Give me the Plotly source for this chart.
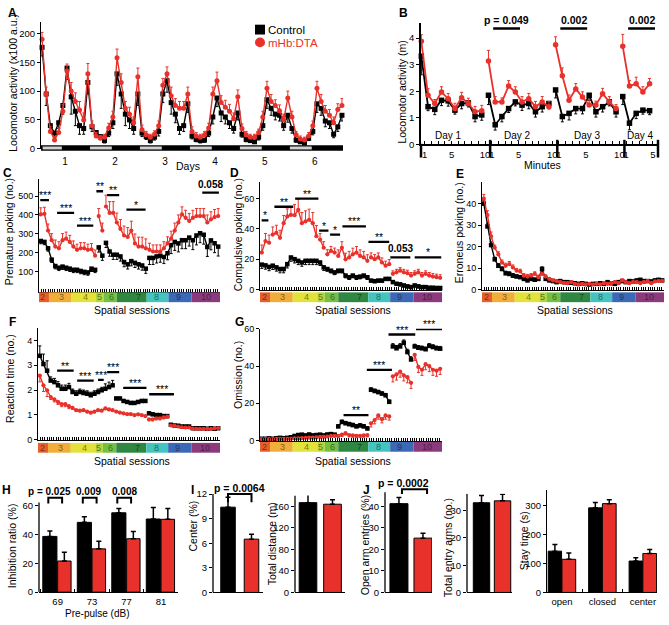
import plotly.graph_objects as go

W, H = 669, 625
RED = "#e8312a"
BLK = "#000000"
FONT = "Liberation Sans, Arial, Helvetica, sans-serif"

# ======================= DATA =======================
# ---- Panel A: home-cage locomotor activity, 2-h bins (hour of recording) ----
A_hours = list(range(13, 158, 2))
A_ctrl = [176, 95, 40, 27, 45, 75, 140, 90, 65, 40,
          35, 115, 38, 28, 21, 14, 27, 45, 130, 95,
          60, 50, 35, 95, 27, 21, 14, 20, 30, 95,
          118, 80, 60, 35, 40, 78, 22, 16, 14, 15,
          27, 55, 88, 62, 55, 45, 35, 62, 25, 16,
          14, 12, 20, 40, 85, 70, 60, 58, 40, 58,
          35, 15, 12, 10, 18, 30, 78, 70, 48, 45,
          25, 38, 58]
A_ctrl_err = [15, 20, 10, 8, 10, 15, 20, 30, 25, 15,
              10, 20, 8, 6, 5, 4, 6, 10, 20, 25,
              20, 15, 10, 20, 6, 5, 4, 5, 8, 15,
              20, 20, 15, 10, 10, 15, 5, 4, 4, 4,
              6, 12, 15, 15, 12, 10, 8, 12, 5, 4,
              3, 3, 5, 8, 15, 12, 10, 10, 8, 12,
              8, 4, 3, 3, 4, 6, 15, 12, 10, 10,
              6, 8, 10]
A_dta = [190, 95, 30, 15, 28, 65, 135, 100, 82, 67,
         50, 130, 40, 22, 18, 20, 36, 55, 158, 115,
         70, 60, 45, 125, 33, 24, 20, 25, 40, 110,
         130, 92, 75, 70, 70, 95, 30, 22, 20, 24,
         36, 95, 118, 80, 72, 65, 52, 90, 35, 24,
         20, 20, 28, 55, 105, 82, 75, 66, 50, 88,
         55, 24, 17, 15, 22, 40, 105, 82, 65, 58,
         45, 68, 75]
A_dta_err = [12, 12, 8, 6, 8, 12, 12, 15, 15, 15,
             12, 18, 8, 6, 5, 5, 8, 10, 15, 15,
             12, 12, 10, 15, 8, 6, 5, 6, 8, 12,
             12, 15, 12, 12, 12, 12, 8, 6, 5, 6,
             8, 12, 15, 12, 12, 12, 10, 12, 8, 6,
             5, 5, 6, 10, 12, 12, 10, 10, 10, 12,
             10, 6, 5, 5, 6, 8, 12, 12, 10, 10,
             10, 10, 12]
A_day_ticks = [24, 48, 72, 96, 120, 144]
A_day_labels = ["1", "2", "3", "4", "5", "6"]
A_light_start = [12, 36, 60, 84, 108, 132]
A_light_end = [22.5, 46.5, 70.5, 94.5, 118.5, 142.5]

# ---- Panel B: open-field activity per minute, 4 days ----
B_minutes = list(range(1, 11))
B_day_names = ["Day 1", "Day 2", "Day 3", "Day 4"]
B_ctrl = [[3.32, 1.42, 1.32, 1.66, 1.64, 1.29, 1.54, 1.56, 1.05, 1.11],
          [1.85, 0.74, 1.05, 1.35, 1.60, 1.48, 1.54, 1.23, 1.42, 1.54],
          [2.05, 1.05, 1.17, 1.35, 1.35, 1.85, 1.23, 1.42, 1.60, 1.23],
          [1.80, 0.80, 1.17, 1.29, 1.27]]
B_ctrl_err = [[0.7, 0.15, 0.2, 0.2, 0.2, 0.15, 0.2, 0.15, 0.2, 0.2],
              [0.35, 0.2, 0.2, 0.15, 0.15, 0.2, 0.2, 0.2, 0.2, 0.2],
              [0.3, 0.2, 0.25, 0.2, 0.2, 0.2, 0.2, 0.2, 0.15, 0.2],
              [0.3, 0.25, 0.2, 0.15, 0.15]]
B_dta = [[3.88, 1.85, 1.54, 1.97, 1.72, 1.35, 1.76, 1.54, 1.23, 1.27],
         [3.14, 1.60, 1.60, 2.20, 1.97, 1.60, 1.72, 1.42, 1.60, 1.42],
         [3.75, 2.58, 1.66, 2.09, 1.78, 1.48, 1.48, 1.91, 1.60, 1.35],
         [3.69, 2.20, 2.28, 1.97, 2.28]]
B_dta_err = [[0.25, 0.25, 0.15, 0.2, 0.2, 0.2, 0.2, 0.2, 0.2, 0.2],
             [0.4, 0.2, 0.15, 0.2, 0.2, 0.2, 0.2, 0.2, 0.2, 0.2],
             [0.3, 0.3, 0.2, 0.2, 0.2, 0.2, 0.15, 0.2, 0.2, 0.15],
             [0.45, 0.2, 0.25, 0.2, 0.2]]
B_tickvals = [1, 5, 10, 11, 15, 20, 21, 25, 30, 31, 35]
B_ticktext = ["1", "5", "10", "1", "5", "10", "1", "5", "10", "1", "5"]
B_sep = [10.75, 20.75, 30.75]
B_day_label_x = [4.5, 14.8, 25.2, 33.1]
B_p_x0 = [11.2, 21.2, 31.3]
B_p_x1 = [15.2, 25.2, 35.3]
B_p_y = [4.36, 4.36, 4.36]
B_p_txt = ["p = 0.049", "0.002", "0.002"]

# ---- Sessions (panels C-G) ----
SESSIONS = ["2", "3", "4", "5", "6", "7", "8", "9", "10"]
SESSION_EDGES = [0, 5.5, 18, 31.5, 35.7, 43, 59.5, 71.5, 84.3, 100]
SESSION_LABEL_X = [2.2, 12.4, 25.8, 33.2, 40, 54.8, 64.9, 76.9, 92]
SESSION_COLORS = ["#e55e2b", "#f1ad3a", "#e3e23a", "#b3d53e", "#74c044",
                  "#2f8742", "#45c4bf", "#3c69b6", "#8b3b7d"]
S_X = list(range(1, 100, 2))

C_ctrl = [262, 257, 223, 163, 129, 120, 126, 120, 115, 109,
          109, 103, 98, 95, 115, 109, 228, 184, 252, 206,
          189, 189, 180, 150, 138, 155, 146, 138, 132, 115,
          172, 172, 180, 184, 177, 197, 240, 257, 249, 266,
          266, 280, 266, 291, 303, 295, 230, 265, 250, 232]
C_dta = [403, 406, 317, 266, 232, 223, 266, 274, 257, 232,
         215, 223, 223, 215, 218, 184, 394, 317, 445, 411,
         411, 360, 326, 291, 283, 317, 249, 232, 232, 223,
         215, 206, 206, 206, 223, 249, 274, 317, 360, 403,
         385, 368, 385, 394, 394, 394, 360, 377, 389, 394]
C_ctrl_err_s = [15, 15, 15, 25, 25, 25, 35, 45, 50]
C_dta_err_s = [35, 35, 30, 40, 60, 50, 35, 40, 40]
C_sig_x0 = [0.7, 10, 21, 31.7, 37.6, 48.3, 90.2]
C_sig_x1 = [5.5, 19.4, 30, 35.4, 44.3, 58.9, 99.4]
C_sig_y = [479, 411, 343, 526, 505, 428, 519]
C_sig_txt = ["***", "***", "***", "**", "**", "*", "<b>0.058</b>"]

D_ctrl = [16.5, 16, 15, 15.8, 14.7, 13.6, 13.6, 16.8, 21.2, 20.1,
          19, 17.9, 19, 19, 19, 19, 17.9, 14.7, 13.6, 12.5,
          11.4, 12.5, 12.5, 9.3, 8.2, 9.3, 8.2, 8.6, 9.3, 8.2,
          6, 5.6, 6, 6, 7.1, 7.1, 5, 3.9, 3.5, 2.8,
          2.2, 1.7, 2.8, 2.2, 1.7, 1.7, 1.3, 1.3, 1.1, 1.1]
D_dta = [24.4, 32, 30.9, 36.3, 37.4, 34.1, 43.8, 48.2, 49.2, 49,
         52.5, 43.8, 44.9, 46, 43.8, 35.2, 33, 27.6, 23.3, 25.5,
         24.4, 22.2, 27.6, 20, 21.2, 23.3, 24.4, 22.2, 21.2, 19,
         21.2, 20.1, 21.2, 17.9, 15.8, 16.8, 10.4, 11.4, 12.5, 11.4,
         10.8, 9.3, 10.4, 11.4, 9.3, 10.4, 9.3, 8.6, 8.2, 7.8]
D_ctrl_err_s = [2.5, 2.5, 2.5, 2, 1.5, 1.5, 1, 1, 1]
D_dta_err_s = [5, 5, 7, 4, 3, 4, 3, 2, 2]
D_sig_x0 = [0.9, 7.9, 19.3, 32.5, 38.5, 45.3, 59.6, 71.6, 85]
D_sig_x1 = [4.6, 18.3, 32.1, 37.6, 44, 58.2, 71, 82.6, 99.6]
D_sig_y = [45.6, 54.6, 60, 38.9, 36.3, 41.7, 31.5, 21.2, 21.2]
D_sig_txt = ["*", "**", "**", "*", "*", "***", "**", "<b>0.053</b>", "*"]

E_ctrl = [40, 29.4, 20.7, 14.1, 11.1, 9.6, 7.6, 7.3, 6.5, 6.1,
          5.8, 5.0, 4.3, 5.0, 4.6, 5.0, 9.6, 5.0, 4.3, 4.0,
          3.5, 4.0, 3.5, 3.5, 3.2, 3.0, 2.7, 3.0, 2.7, 2.4,
          2.7, 2.7, 3.0, 2.7, 3.5, 3.0, 2.7, 3.5, 4.0, 3.5,
          4.0, 3.8, 4.3, 4.6, 4.0, 4.0, 3.8, 4.3, 4.6, 4.3]
E_dta = [42.3, 34.7, 24.8, 19.5, 16.4, 12.6, 11.1, 11.9, 10.3, 8.8,
         8.5, 6.5, 6.1, 6.5, 7.3, 5.8, 7.3, 6.1, 5.0, 4.3,
         4.0, 3.5, 3.2, 3.0, 3.5, 2.7, 2.4, 2.7, 2.4, 2.7,
         2.4, 2.7, 2.4, 3.0, 2.7, 3.0, 3.5, 3.0, 4.3, 3.5,
         3.0, 3.5, 3.5, 3.0, 3.5, 4.0, 3.0, 3.8, 4.0, 4.0]
E_ctrl_err_s = [1.5, 1, 0.8, 1, 0.6, 0.6, 0.6, 0.6, 0.6]
E_dta_err_s = [2, 1.2, 1, 0.8, 0.6, 0.6, 0.6, 0.6, 0.6]

F_ctrl = [3.38, 3.05, 2.78, 2.38, 2.32, 2.19, 2.05, 2.05, 2.12, 1.92,
          1.85, 1.92, 1.88, 1.85, 1.79, 1.85, 1.92, 1.99, 2.05, 2.12,
          2.19, 1.66, 1.66, 1.56, 1.52, 1.48, 1.48, 1.52, 1.56, 1.56,
          1.06, 1.02, 0.99, 0.99, 0.95, 0.95, 0.60, 0.57, 0.56, 0.53,
          0.53, 0.53, 0.46, 0.46, 0.46, 0.46, 0.44, 0.46, 0.44, 0.46]
F_dta = [2.58, 2.19, 1.99, 1.72, 1.62, 1.52, 1.43, 1.43, 1.35, 1.28,
         1.19, 1.17, 1.19, 1.13, 1.09, 1.13, 1.19, 1.17, 1.26, 1.22,
         1.19, 1.13, 1.09, 1.06, 1.03, 1.03, 0.99, 1.02, 0.99, 0.95,
         0.82, 0.82, 0.86, 0.86, 0.90, 0.93, 0.57, 0.56, 0.53, 0.50,
         0.49, 0.49, 0.45, 0.44, 0.43, 0.44, 0.43, 0.44, 0.45, 0.47]
F_ctrl_err_s = [0.4, 0.15, 0.12, 0.12, 0.2, 0.05, 0.05, 0.03, 0.03]
F_dta_err_s = [0.25, 0.1, 0.05, 0.05, 0.05, 0.04, 0.06, 0.03, 0.03]
F_sig_x0 = [10.5, 21.5, 33, 38, 46.8, 61.1]
F_sig_x1 = [19.6, 30.6, 36.1, 44.6, 59.6, 74.7]
F_sig_y = [2.78, 2.38, 2.41, 2.72, 2.09, 1.83]
F_sig_txt = ["**", "***", "***", "***", "***", "***"]

G_ctrl = [1.0, 1.0, 1.2, 1.0, 1.3, 1.5, 1.3, 1.5, 1.8, 2.5,
          3.0, 3.2, 2.8, 3.3, 2.8, 3.0, 3.2, 2.8, 3.3, 3.5,
          3.2, 7.6, 10.0, 9.3, 8.8, 8.3, 7.6, 8.1, 7.6, 6.5,
          27.3, 26.6, 26.0, 25.2, 24.3, 20.8, 50.5, 49.5, 50.5, 52.5,
          47.5, 43.5, 50.5, 49.8, 49.5, 49.0, 50.8, 50.2, 49.5, 49.3]
G_dta = [0.8, 0.8, 0.8, 0.8, 0.9, 0.9, 0.9, 1.0, 1.0, 1.2,
         1.2, 1.3, 1.5, 1.6, 1.6, 1.7, 2.0, 2.0, 2.2, 2.5,
         2.5, 2.6, 3.2, 4.0, 3.0, 2.8, 2.6, 2.6, 2.8, 3.0,
         9.3, 11.0, 13.5, 11.5, 13.5, 13.0, 34.5, 35.5, 37.0, 35.0,
         34.0, 31.0, 46.0, 39.5, 38.0, 41.0, 40.0, 38.0, 37.5, 38.5]
G_ctrl_err_s = [0.3, 0.4, 0.5, 0.5, 0.5, 1.0, 1.0, 1.5, 1.2]
G_dta_err_s = [0.2, 0.2, 0.3, 0.4, 0.4, 1.0, 2.0, 3.0, 3.0]
G_sig_x0 = [45.9, 58.7, 70.6, 85.7]
G_sig_x1 = [59.6, 72.5, 85.3, 100]
G_sig_y = [13.7, 37.9, 56.9, 59.8]
G_sig_txt = ["**", "***", "***", "***"]

# ---- Panel H: prepulse inhibition ----
H_prepulse = ["69", "73", "77", "81"]
H_ctrl = [38.5, 48.2, 54.8, 50.5]
H_ctrl_err = [3.8, 3.8, 2.9, 7.9]
H_dta = [21.5, 29.9, 36.9, 50.3]
H_dta_err = [6.1, 5.2, 5.0, 7.4]
H_br_x0 = [-0.27, 0.73, 1.73]
H_br_x1 = [0.13, 1.13, 2.13]
H_br_top, H_br_leg = 65.2, 61.2
H_p_x = [-0.24, 0.9, 1.95]
H_p_txt = ["p = 0.025", "0.009", "0.008"]
H_p_y = 69.8

# ---- Panel I: open field ----
I_center = [10.4, 6.5]
I_center_err = [1.2, 0.6]
I_dist = [166.6, 163.7]
I_dist_err = [16.4, 8.3]

# ---- Panel J: elevated plus maze ----
J_open = [41.2, 25.2]
J_open_err = [2.8, 2.3]
J_entries = [32.9, 33.6]
J_entries_err = [2.7, 2.4]
J_zones = ["open", "closed", "center"]
J_stay_ctrl = [142, 291, 108]
J_stay_ctrl_err = [22.7, 18, 11]
J_stay_dta = [114, 305.5, 134]
J_stay_dta_err = [22, 13.5, 14]

# ======================= FIGURE =======================
TICK = 9
fig = go.Figure()
L = dict(width=W, height=H, autosize=False, margin=dict(l=0, r=0, t=0, b=0),
         paper_bgcolor="white", plot_bgcolor="white", showlegend=False,
         barmode="overlay", font=dict(family=FONT, size=10, color="black"))
shapes, annos = [], []


def axn(n, c):
    return f"{c}axis" + ("" if n == 1 else str(n))


def rf(n, c):
    return c + ("" if n == 1 else str(n))


def set_axes(n, xpx, ypx, xr, yr, xkw=None, ykw=None):
    xa = dict(domain=[xpx[0] / W, xpx[1] / W], range=xr, anchor=rf(n, "y"),
              showgrid=False, zeroline=False, showline=True, linecolor="black",
              linewidth=1, ticks="", showticklabels=False, fixedrange=True,
              tickangle=0, tickfont=dict(size=TICK, color="black"))
    ya = dict(domain=[1 - ypx[1] / H, 1 - ypx[0] / H], range=yr, anchor=rf(n, "x"),
              showgrid=False, zeroline=False, showline=True, linecolor="black",
              linewidth=1, ticks="outside", ticklen=3, tickwidth=1, tickcolor="black",
              tickfont=dict(size=TICK, color="black"), fixedrange=True)
    if xkw:
        xa.update(xkw)
    if ykw:
        ya.update(ykw)
    L[axn(n, "x")] = xa
    L[axn(n, "y")] = ya


def ptxt(x, y, s, size=10, color="black", angle=0, xanchor="center", yanchor="middle"):
    annos.append(dict(xref="paper", yref="paper", x=x / W, y=1 - y / H, text=s,
                      showarrow=False, textangle=angle, xanchor=xanchor, yanchor=yanchor,
                      font=dict(size=size, color=color, family=FONT)))


def letter(x, y, s):
    ptxt(x, y, "<b>" + s + "</b>", size=12)


def ytitle(x, y, s, size=10.5):
    ptxt(x, y, s, size=size, angle=-90)


def line_shape(n, x0, x1, y0, y1, width=2.2):
    shapes.append(dict(type="line", xref=rf(n, "x"), yref=rf(n, "y"), x0=x0, x1=x1,
                       y0=y0, y1=y1, line=dict(color="black", width=width), layer="above"))


def err(vals, direction, color):
    z = [0] * len(vals)
    if direction == "up":
        return dict(type="data", array=vals, arrayminus=z, symmetric=False,
                    color=color, thickness=1, width=1.5)
    return dict(type="data", array=z, arrayminus=vals, symmetric=False,
                color=color, thickness=1, width=1.5)


def scatter(n, x, y, e, color, symbol, direction, size=4.5, lw=1.4):
    fig.add_trace(go.Scatter(
        x=x, y=y, mode="lines+markers", xaxis=rf(n, "x"), yaxis=rf(n, "y"),
        line=dict(color=color, width=lw), marker=dict(color=color, symbol=symbol, size=size),
        error_y=err(e, direction, color), cliponaxis=False, connectgaps=False,
        hoverinfo="skip"))


# ----------------------- Panel A -----------------------
set_axes(1, (41, 343), (17, 146), [12.5, 157.5], [0, 220.5],
         xkw=dict(showline=False, tickvals=A_day_ticks, ticktext=A_day_labels,
                  showticklabels=True, ticks="outside", ticklen=3,
                  tickcolor="rgba(0,0,0,0)", tickfont=dict(size=10, color="black")),
         ykw=dict(tickvals=[0, 50, 100, 150, 200], tickfont=dict(size=9.5, color="black")))
scatter(1, A_hours, A_ctrl, A_ctrl_err, BLK, "square", "down", size=5)
scatter(1, A_hours, A_dta, A_dta_err, RED, "circle", "up", size=5)
# light/dark bar
shapes.append(dict(type="rect", xref="x", yref="paper", x0=12.5, x1=157.5,
                   y0=1 - 148 / H, y1=1 - 142.5 / H, fillcolor="black",
                   line=dict(width=0), layer="above"))
for s0, s1 in zip(A_light_start, A_light_end):
    shapes.append(dict(type="rect", xref="x", yref="paper", x0=max(s0, 13.3), x1=s1,
                       y0=1 - 146.8 / H, y1=1 - 143.8 / H, fillcolor="#d0d0d0",
                       line=dict(width=0), layer="above"))
ytitle(13, 79, "Locomotor activity (x100 a.u.)")
ptxt(188, 164, "Days", size=10.5)
letter(13, 8, "A")
# legend
shapes.append(dict(type="rect", xref="paper", yref="paper", x0=255 / W, x1=265 / W,
                   y0=1 - 30 / H, y1=1 - 20 / H, fillcolor="black", line=dict(width=0)))
shapes.append(dict(type="circle", xref="paper", yref="paper", x0=255 / W, x1=265 / W,
                   y0=1 - 43 / H, y1=1 - 33 / H, fillcolor=RED, line=dict(width=0)))
ptxt(266, 25.5, "Control", size=11.5, xanchor="left")
ptxt(266, 38.5, "mHb:DTA", size=11.5, color=RED, xanchor="left")

# ----------------------- Panel B -----------------------
set_axes(2, (421, 658), (18, 141.7), [0.45, 35.75], [0, 4.58],
         xkw=dict(linewidth=2, tickvals=B_tickvals, ticktext=B_ticktext, showticklabels=True,
                  ticks="inside", ticklen=3, tickwidth=1.2, tickcolor="black",
                  tickfont=dict(size=9.5, color="black"),
                  minor=dict(tick0=0, dtick=1, ticks="inside", ticklen=3,
                             tickwidth=1.2, tickcolor="black")),
         ykw=dict(tickvals=[0, 1, 2, 3, 4], linewidth=1.5,
                  tickfont=dict(size=9.5, color="black")))
for d in range(len(B_ctrl)):
    xs = [d * 10 + m - 0.5 for m in B_minutes[:len(B_ctrl[d])]]
    scatter(2, xs, B_ctrl[d], B_ctrl_err[d], BLK, "square", "down", size=5.5, lw=1.8)
    scatter(2, xs, B_dta[d], B_dta_err[d], RED, "circle", "up", size=5.5, lw=1.8)
for sx in B_sep:
    shapes.append(dict(type="line", xref="x2", yref="paper", x0=sx, x1=sx,
                       y0=1 - 155 / H, y1=1 - 137 / H, line=dict(color="black", width=2.5)))
shapes.append(dict(type="line", xref="x2 domain", yref="paper", x0=1, x1=1,
                   y0=1 - 155 / H, y1=1 - 137 / H, line=dict(color="black", width=2.5)))
shapes.append(dict(type="line", xref="x2 domain", yref="paper", x0=0, x1=0,
                   y0=1 - 155 / H, y1=1 - 141 / H, line=dict(color="black", width=2.5)))
for i, nm in enumerate(B_day_names):
    annos.append(dict(xref="x2", yref="paper", x=B_day_label_x[i], y=1 - 140 / H, text=nm,
                      showarrow=False, yanchor="bottom", yshift=0,
                      font=dict(size=10, family=FONT, color="black")))
for x0, x1, yv, t in zip(B_p_x0, B_p_x1, B_p_y, B_p_txt):
    line_shape(2, x0, x1, yv, yv, width=2.5)
    annos.append(dict(xref="x2", yref="y2", x=(x0 + x1) / 2, y=yv, text="<b>" + t + "</b>",
                      showarrow=False, yanchor="bottom", yshift=1,
                      font=dict(size=10.5, family=FONT, color="black")))
ytitle(402, 89, "Locomotor activity (m)")
ptxt(542, 163, "Minutes", size=10.5)
letter(403, 8, "B")


# ----------------------- Panels C-G -----------------------
def sess_index(x):
    return sum(1 for b in SESSION_EDGES[1:-1] if x >= b)


def with_gaps(xs, ys, es, breaks):
    ox, oy, oe = [], [], []
    prev = None
    for x, y, e in zip(xs, ys, es):
        s = sum(1 for b in breaks if x >= b)
        if prev is not None and s != prev:
            ox.append(None); oy.append(None); oe.append(0)
        ox.append(x); oy.append(y); oe.append(e)
        prev = s
    return ox, oy, oe


def session_panel(n, xpx, ypx, yr, ticks, ctrl, dta, ce_s, de_s, cdir, ddir, breaks,
                  bar_px, sig=None):
    set_axes(n, xpx, ypx, [0, 100], yr,
             xkw=dict(linewidth=1.2, ticks="inside", ticklen=3, tickwidth=1.1,
                      tickcolor="black", tick0=0, dtick=1.25),
             ykw=dict(tickvals=ticks))
    ce = [ce_s[sess_index(x)] for x in S_X]
    de = [de_s[sess_index(x)] for x in S_X]
    xa, ya, ea = with_gaps(S_X, ctrl, ce, breaks)
    xb, yb, eb = with_gaps(S_X, dta, de, breaks)
    scatter(n, xa, ya, ea, BLK, "square", cdir, size=4.5, lw=1.4)
    scatter(n, xb, yb, eb, RED, "circle", ddir, size=4.2, lw=1.4)
    xref_dom = rf(n, "x") + " domain"
    for i, nm in enumerate(SESSIONS):
        shapes.append(dict(type="rect", xref=rf(n, "x"), yref="paper",
                           x0=SESSION_EDGES[i], x1=SESSION_EDGES[i + 1],
                           y0=1 - bar_px[1] / H, y1=1 - bar_px[0] / H,
                           fillcolor=SESSION_COLORS[i], line=dict(width=0), layer="above"))
        annos.append(dict(xref=xref_dom, yref="paper", x=SESSION_LABEL_X[i] / 100.0,
                          y=1 - (bar_px[0] + bar_px[1]) / 2 / H, text=nm, showarrow=False,
                          xanchor="center", yanchor="middle",
                          font=dict(size=9, color="rgba(0,0,0,0.5)", family=FONT)))
    if sig:
        for x0, x1_, yv, t in zip(*sig):
            line_shape(n, x0, x1_, yv, yv, width=2.3)
            star = t.startswith("*")
            annos.append(dict(xref=rf(n, "x"), yref=rf(n, "y"), x=(x0 + x1_) / 2, y=yv,
                              text=t, showarrow=False, yanchor="bottom",
                              yshift=-3 if star else 1,
                              font=dict(size=10.5 if star else 10, family=FONT,
                                        color="black")))


session_panel(3, (39, 220), (177, 291.5), [-8, 590], [100, 200, 300, 400, 500],
              C_ctrl, C_dta, C_ctrl_err_s, C_dta_err_s, "down", "up",
              [31.5, 35.7, 59.5], (292, 302),
              (C_sig_x0, C_sig_x1, C_sig_y, C_sig_txt))
ytitle(9, 231, "Premature poking (no.)")
ptxt(132, 310, "Spatial sessions", size=10.5)
letter(7, 171, "C")

session_panel(4, (260, 442), (180, 289.3), [0, 70.8], [0, 20, 40, 60],
              D_ctrl, D_dta, D_ctrl_err_s, D_dta_err_s, "down", "up",
              SESSION_EDGES[1:-1], (292, 302),
              (D_sig_x0, D_sig_x1, D_sig_y, D_sig_txt))
ytitle(238, 234, "Compulsive poking (no.)")
ptxt(353, 310, "Spatial sessions", size=10.5)
letter(235, 171, "D")

session_panel(5, (482, 664), (180, 289.3), [0, 50], [0, 10, 20, 30, 40],
              E_ctrl, E_dta, E_ctrl_err_s, E_dta_err_s, "up", "up",
              [], (292, 302))
ytitle(459, 232, "Erroneus poking (no.)")
ptxt(575, 310, "Spatial sessions", size=10.5)
letter(460, 172, "E")

session_panel(6, (38, 220), (328.3, 441.7), [0, 4.5], [0, 1, 2, 3, 4],
              F_ctrl, F_dta, F_ctrl_err_s, F_dta_err_s, "up", "down",
              [43, 59.5, 71.5, 84.3], (445, 455),
              (F_sig_x0, F_sig_x1, F_sig_y, F_sig_txt))
ytitle(10, 380, "Reaction time (no.)")
ptxt(132, 463, "Spatial sessions", size=10.5)
letter(13, 322, "F")

session_panel(7, (260, 442), (329, 442.7), [0, 60], [0, 20, 40, 60],
              G_ctrl, G_dta, G_ctrl_err_s, G_dta_err_s, "up", "down",
              SESSION_EDGES[1:-1], (444, 454),
              (G_sig_x0, G_sig_x1, G_sig_y, G_sig_txt))
ytitle(238, 376, "Omission (no.)")
ptxt(353, 463, "Spatial sessions", size=10.5)
letter(239, 322, "G")


# ----------------------- Bar panels -----------------------
def bar_err(vals):
    return dict(type="data", array=vals, arrayminus=[0] * len(vals), symmetric=False,
                color="black", thickness=1.5, width=2.5)


def axis_line(n, ytop):
    shapes.append(dict(type="line", xref=rf(n, "x") + " domain", yref=rf(n, "y"),
                       x0=0, x1=0, y0=0, y1=ytop, line=dict(color="black", width=1.3)))


def bracket(n, x0, x1, ytop, yleg):
    shapes.append(dict(type="path", xref=rf(n, "x"), yref=rf(n, "y"),
                       path=f"M {x0},{yleg} L {x0},{ytop} L {x1},{ytop} L {x1},{yleg}",
                       line=dict(color="black", width=2)))


BAR_LINE = dict(color="black", width=1)
BTICK = 9.5

# H
set_axes(8, (39, 178), (493.7, 596.7), [-0.54, 3.49], [0, 70],
         xkw=dict(linewidth=1.3, tickvals=[0, 1, 2, 3], ticktext=H_prepulse,
                  showticklabels=True, ticks="", tickfont=dict(size=BTICK, color="black"),
                  minor=dict(tick0=0.5, dtick=1, ticks="inside", ticklen=3, tickcolor="black")),
         ykw=dict(showline=False, tickvals=[0, 20, 40, 60],
                  tickfont=dict(size=BTICK, color="black")))
axis_line(8, 62)
hx = list(range(len(H_prepulse)))
fig.add_trace(go.Bar(x=hx, y=H_ctrl, xaxis="x8", yaxis="y8", width=0.41, offset=-0.43,
                     marker=dict(color=BLK, line=BAR_LINE), error_y=bar_err(H_ctrl_err),
                     hoverinfo="skip"))
fig.add_trace(go.Bar(x=hx, y=H_dta, xaxis="x8", yaxis="y8", width=0.39, offset=0.0,
                     marker=dict(color=RED, line=BAR_LINE), error_y=bar_err(H_dta_err),
                     hoverinfo="skip"))
for x0, x1, px_, t in zip(H_br_x0, H_br_x1, H_p_x, H_p_txt):
    bracket(8, x0, x1, H_br_top, H_br_leg)
    annos.append(dict(xref="x8", yref="y8", x=px_, y=H_p_y, text="<b>" + t + "</b>",
                      showarrow=False, font=dict(size=10, family=FONT, color="black")))
ytitle(12, 550, "Inhibition ratio (%)")
ptxt(97, 618, "Pre-pulse (dB)", size=10)
letter(6, 493, "H")


def pair_panel(n, xpx, ypx, xr, yr, ytop, ticks, vals, errs, width):
    set_axes(n, xpx, ypx, xr, yr,
             xkw=dict(linewidth=1.3),
             ykw=dict(showline=False, tickvals=ticks,
                      tickfont=dict(size=BTICK, color="black")))
    axis_line(n, ytop)
    fig.add_trace(go.Bar(x=[0, 1], y=vals, xaxis=rf(n, "x"), yaxis=rf(n, "y"),
                         width=width, offset=-width / 2,
                         marker=dict(color=[BLK, RED], line=BAR_LINE),
                         error_y=bar_err(errs), hoverinfo="skip"))


# I
pair_panel(9, (213, 263), (484.5, 597), [-0.64, 1.49], [0, 13.5], 12,
           [0, 3, 6, 9, 12], I_center, I_center_err, 0.62)
bracket(9, 0.0, 1.0, 12.0, 11.0)
annos.append(dict(xref="x9", yref="y9", x=0.5, y=12.7, text="<b>p = 0.0064</b>",
                  showarrow=False, font=dict(size=10.5, family=FONT, color="black")))
ytitle(193, 530, "Center (%)")
letter(192, 493, "I")

pair_panel(10, (295, 345), (498.4, 597), [-0.53, 1.51], [0, 180], 180,
           [0, 40, 80, 120, 160], I_dist, I_dist_err, 0.72)
ytitle(272, 548, "Total distance (m)")

# J
pair_panel(11, (385, 432), (483.1, 597), [-0.58, 1.375], [0, 52], 46.5,
           [0, 10, 20, 30, 40], J_open, J_open_err, 0.75)
bracket(11, 0.125, 1.17, 47.9, 45.7)
annos.append(dict(xref="x11", yref="y11", x=0.17, y=50.7, text="<b>p = 0.0002</b>",
                  showarrow=False, font=dict(size=10.5, family=FONT, color="black")))
ytitle(365, 549, "Open arm entries (%)")
letter(366, 493, "J")

pair_panel(12, (467, 512), (496.7, 597), [-0.69, 1.45], [0, 36.2], 36.2,
           [0, 10, 20, 30], J_entries, J_entries_err, 0.78)
ytitle(448, 552, "Total entry arms (no.)")

set_axes(13, (547, 657), (493.3, 597), [-0.37, 2.35], [0, 351],
         xkw=dict(linewidth=1.3, tickvals=[0, 1, 2], ticktext=J_zones, showticklabels=True,
                  ticks="", tickfont=dict(size=BTICK, color="black"),
                  minor=dict(tick0=0.5, dtick=1, ticks="inside", ticklen=3, tickcolor="black")),
         ykw=dict(tickvals=[0, 100, 200, 300], tickfont=dict(size=BTICK, color="black")))
jx = list(range(len(J_zones)))
fig.add_trace(go.Bar(x=jx, y=J_stay_ctrl, xaxis="x13", yaxis="y13", width=0.33, offset=-0.34,
                     marker=dict(color=BLK, line=BAR_LINE), error_y=bar_err(J_stay_ctrl_err),
                     hoverinfo="skip"))
fig.add_trace(go.Bar(x=jx, y=J_stay_dta, xaxis="x13", yaxis="y13", width=0.34, offset=0.0,
                     marker=dict(color=RED, line=BAR_LINE), error_y=bar_err(J_stay_dta_err),
                     hoverinfo="skip"))
ytitle(524, 545, "Stay time (s)")

L["shapes"] = shapes
L["annotations"] = annos
fig.update_layout(**L)
fig.write_html("out.html", config={"displayModeBar": False},
               post_script="document.body.style.margin='0';")
